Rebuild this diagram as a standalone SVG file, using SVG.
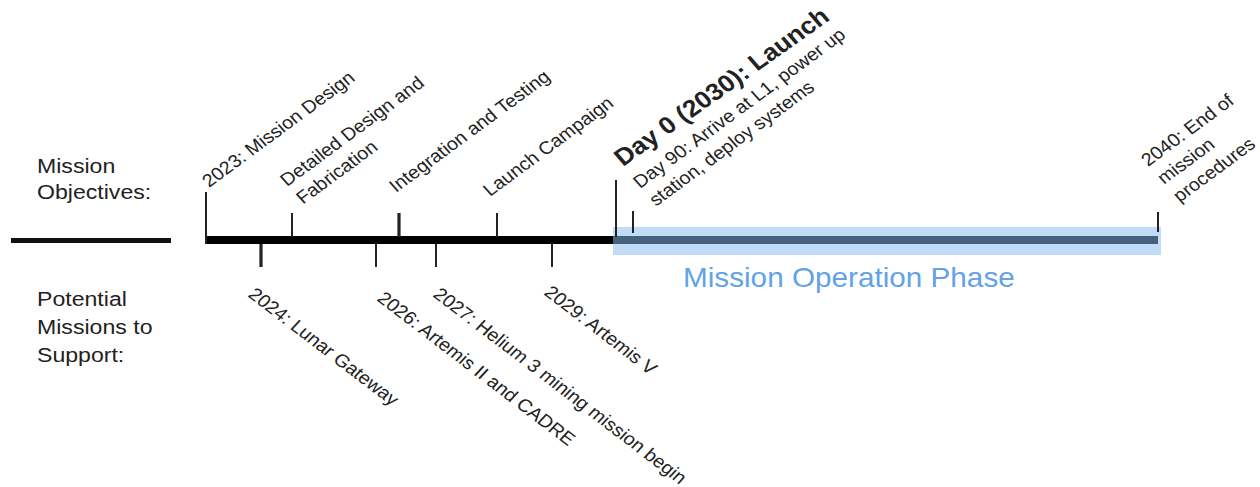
<svg xmlns="http://www.w3.org/2000/svg" width="1260" height="487" viewBox="0 0 1260 487">
<style>
text{font-family:"Liberation Sans",Arial,sans-serif;fill:#222;}
.lab{font-size:18px;}
.side{font-size:21px;}
.bold{font-size:24px;font-weight:bold;}
.phase{font-size:27px;fill:#62a2e8;}
.tick{stroke:#222;stroke-width:2;fill:none;}
.thick{stroke-width:3.2;}
</style>
<rect width="1260" height="487" fill="#ffffff"/>
<g id="legend">
  <text class="side" transform="translate(37,0) scale(1.1,1)"><tspan x="0" y="173">Mission</tspan><tspan x="0" y="199">Objectives:</tspan></text>
  <rect x="11" y="238" width="160" height="5" fill="#111"/>
  <text class="side" transform="translate(37,0) scale(1.1,1)"><tspan x="0" y="306">Potential</tspan><tspan x="0" y="334">Missions to</tspan><tspan x="0" y="362">Support:</tspan></text>
</g>
<g id="connectors">
  <rect x="613" y="227" width="548" height="28" fill="#c0dcf6"/>
  <rect x="207" y="236" width="406" height="8" fill="#000"/>
  <rect x="613" y="236" width="545" height="8" fill="#46627f"/>
</g>
<g id="m2023">
  <line class="tick" x1="206" y1="192" x2="206" y2="244"/>
  <text class="lab" transform="translate(209,188) scale(1.1,1) rotate(-39)">2023: Mission Design</text>
</g>
<g id="detailed">
  <line class="tick" x1="292" y1="213" x2="292" y2="237"/>
  <text class="lab" transform="translate(287,187) scale(1.1,1) rotate(-39)"><tspan x="0" y="0">Detailed Design and</tspan><tspan x="0" dy="23">Fabrication</tspan></text>
</g>
<g id="integration">
  <line class="tick thick" x1="399" y1="213" x2="399" y2="237"/>
  <text class="lab" transform="translate(396,193) scale(1.1,1) rotate(-39)">Integration and Testing</text>
</g>
<g id="launchcampaign">
  <line class="tick" x1="497" y1="213" x2="497" y2="237"/>
  <text class="lab" transform="translate(490,197) scale(1.1,1) rotate(-39)">Launch Campaign</text>
</g>
<g id="day0">
  <line class="tick" x1="616" y1="180" x2="616" y2="237"/>
  <text class="bold" transform="translate(623,167) scale(1.1,1) rotate(-38)">Day 0 (2030): Launch</text>
</g>
<g id="day90">
  <line class="tick" x1="633" y1="211" x2="633" y2="233"/>
  <text class="lab" transform="translate(640,189) scale(1.1,1) rotate(-39)"><tspan x="0" y="0">Day 90: Arrive at L1, power up</tspan><tspan x="0" dy="23">station, deploy systems</tspan></text>
</g>
<g id="m2040">
  <line class="tick" x1="1158" y1="212" x2="1158" y2="232"/>
  <text class="lab" transform="translate(1148,167) scale(1.1,1) rotate(-39)"><tspan x="0" y="0">2040: End of</tspan><tspan x="0" dy="23">mission</tspan><tspan x="0" dy="23">procedures</tspan></text>
</g>
<g id="m2024">
  <line class="tick thick" x1="261" y1="244" x2="261" y2="267"/>
  <text class="lab" transform="translate(247,296) scale(1.1,1) rotate(40)">2024: Lunar Gateway</text>
</g>
<g id="m2026">
  <line class="tick" x1="376" y1="244" x2="376" y2="267"/>
  <text class="lab" transform="translate(376,300) scale(1.1,1) rotate(40)">2026: Artemis II and CADRE</text>
</g>
<g id="m2027">
  <line class="tick" x1="436" y1="244" x2="436" y2="267"/>
  <text class="lab" transform="translate(432,296) scale(1.1,1) rotate(40)">2027: Helium 3 mining mission begin</text>
</g>
<g id="m2029">
  <line class="tick" x1="552" y1="244" x2="552" y2="267"/>
  <text class="lab" transform="translate(543,294) scale(1.1,1) rotate(40)">2029: Artemis V</text>
</g>
<g id="phase">
  <text class="phase" transform="translate(683,287) scale(1.1,1)">Mission Operation Phase</text>
</g>
</svg>
